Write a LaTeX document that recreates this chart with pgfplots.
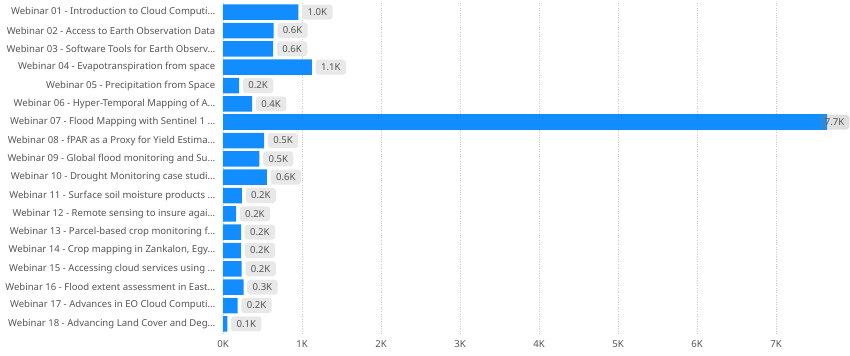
\documentclass[border=0pt]{standalone}
\usepackage{pgfplots}
\pgfplotsset{compat=1.18}
\usepackage{fontspec}
\setmainfont{Noto Sans}
\definecolor{barblue}{HTML}{118DFF}
\definecolor{lblgray}{HTML}{E8E8E8}
\definecolor{txtgray}{HTML}{555555}
\definecolor{gridgray}{HTML}{CCCCCC}
\begin{document}
\begin{tikzpicture}
\begin{axis}[
  scale only axis,
  width=610bp, height=330bp,
  xmin=0, xmax=7720,
  ymin=0.5, ymax=18.5,
  y dir=reverse,
  xbar, bar width=15.5bp, bar shift=0pt,
  xtick={0,1000,2000,3000,4000,5000,6000,7000},
  xticklabels={0K,1K,2K,3K,4K,5K,6K,7K},
  ytick={1,2,3,4,5,6,7,8,9,10,11,12,13,14,15,16,17,18},
  yticklabels={
    {Webinar 01 - Introduction to Cloud Computi…},
    {Webinar 02 - Access to Earth Observation Data},
    {Webinar 03 - Software Tools for Earth Observ…},
    {Webinar 04 - Evapotranspiration from space},
    {Webinar 05 - Precipitation from Space},
    {Webinar 06 - Hyper-Temporal Mapping of A…},
    {Webinar 07 - Flood Mapping with Sentinel 1 …},
    {Webinar 08 - fPAR as a Proxy for Yield Estima…},
    {Webinar 09 - Global flood monitoring and Su…},
    {Webinar 10 - Drought Monitoring case studi…},
    {Webinar 11 - Surface soil moisture products …},
    {Webinar 12 - Remote sensing to insure agai…},
    {Webinar 13 - Parcel-based crop monitoring f…},
    {Webinar 14 - Crop mapping in Zankalon, Egy…},
    {Webinar 15 - Accessing cloud services using …},
    {Webinar 16 - Flood extent assessment in East…},
    {Webinar 17 - Advances in EO Cloud Computi…},
    {Webinar 18 - Advancing Land Cover and Deg…}},
  yticklabel style={font=\fontsize{9.6}{11}\selectfont, text=txtgray, xshift=0bp},
  xticklabel style={font=\fontsize{9.6}{11}\selectfont, text=txtgray, yshift=-4bp},
  axis line style={draw=none},
  major tick style={draw=none},
  xmajorgrids, ymajorgrids=false,
  grid style={gridgray, dotted, line width=0.6pt},
  clip=false,
  nodes near coords,
  nodes near coords align=horizontal,
  point meta=explicit symbolic,
  every node near coord/.style={
    anchor=west,
    fill=lblgray, rounded corners=3bp, text=txtgray,
    font=\fontsize{9.6}{11}\selectfont,
    inner xsep=5.5bp, inner ysep=4bp, xshift=3.5bp},
]
\addplot[fill=barblue, draw=none] coordinates {
  (955,1) [1.0K]
  (640,2) [0.6K]
  (635,3) [0.6K]
  (1125,4) [1.1K]
  (205,5) [0.2K]
  (370,6) [0.4K]
  (520,8) [0.5K]
  (460,9) [0.5K]
  (555,10) [0.6K]
  (240,11) [0.2K]
  (165,12) [0.2K]
  (228,13) [0.2K]
  (228,14) [0.2K]
  (237,15) [0.2K]
  (260,16) [0.3K]
  (185,17) [0.2K]
  (55,18) [0.1K]
};
\addplot[fill=barblue, draw=none,
  every node near coord/.style={anchor=east, xshift=22bp,
    fill=gray, fill opacity=0.25, text opacity=1, text=txtgray,
    rounded corners=3bp, font=\fontsize{9.6}{11}\selectfont,
    inner xsep=5bp, inner ysep=4bp}]
  coordinates {(7650,7) [7.7K]};
\end{axis}
\pgfresetboundingbox
\path[use as bounding box] (current axis.south west) ++(-223bp,-23bp) rectangle ++(850bp,356bp);
\end{tikzpicture}
\end{document}
